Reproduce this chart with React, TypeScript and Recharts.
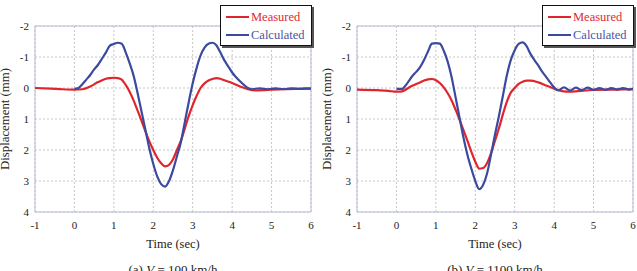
import React from 'react';
import { LineChart, Line, XAxis, YAxis, CartesianGrid, ReferenceArea, Legend } from 'recharts';

const FONT = '"Liberation Serif", "Times New Roman", serif';
const RED = '#E1252D';
const BLUE = '#3B4A9E';

const xTicks = [-1, 0, 1, 2, 3, 4, 5, 6];
const yTicks = [-2, -1, 0, 1, 2, 3, 4];
const seriesNames = ['Measured', 'Calculated'];

// (a) V = 100 km/h
const timeMeasuredA = [-1, -0.6, -0.3, 0, 0.2, 0.4, 0.6, 0.8, 0.9, 1.0, 1.1, 1.2, 1.3, 1.4, 1.5, 1.6, 1.7, 1.8, 1.9, 2.0, 2.1, 2.2, 2.3, 2.4, 2.5, 2.6, 2.7, 2.8, 2.9, 3.0, 3.1, 3.2, 3.3, 3.4, 3.5, 3.6, 3.7, 3.8, 4.0, 4.2, 4.4, 4.6, 4.8, 5.0, 5.3, 5.6, 6.0];
const measuredA = [0.0, 0.02, 0.04, 0.05, 0.04, -0.05, -0.19, -0.3, -0.32, -0.33, -0.32, -0.27, -0.1, 0.12, 0.4, 0.72, 1.05, 1.4, 1.72, 2.0, 2.25, 2.43, 2.53, 2.48, 2.3, 2.0, 1.7, 1.3, 0.9, 0.55, 0.25, 0.0, -0.15, -0.24, -0.29, -0.32, -0.3, -0.25, -0.16, -0.05, 0.04, 0.08, 0.07, 0.05, 0.04, 0.03, 0.02];
const timeCalculatedA = [0, 0.1, 0.2, 0.3, 0.4, 0.5, 0.6, 0.7, 0.8, 0.9, 1.0, 1.1, 1.2, 1.3, 1.4, 1.5, 1.6, 1.7, 1.8, 1.9, 2.0, 2.1, 2.2, 2.3, 2.4, 2.5, 2.6, 2.7, 2.8, 2.9, 3.0, 3.1, 3.2, 3.3, 3.4, 3.5, 3.6, 3.7, 3.8, 3.9, 4.0, 4.1, 4.2, 4.3, 4.4, 4.5, 4.7, 4.9, 5.1, 5.3, 5.5, 5.7, 5.9, 6.0];
const calculatedA = [0.03, 0.0, -0.12, -0.27, -0.42, -0.6, -0.75, -0.95, -1.15, -1.37, -1.42, -1.46, -1.43, -1.15, -0.8, -0.4, 0.15, 0.75, 1.35, 1.95, 2.45, 2.85, 3.1, 3.18, 3.0, 2.65, 2.2, 1.75, 1.1, 0.45, -0.15, -0.65, -1.05, -1.3, -1.43, -1.46, -1.38, -1.15, -0.9, -0.7, -0.5, -0.35, -0.22, -0.1, 0.0, 0.04, 0.01, 0.04, 0.01, 0.04, 0.01, 0.03, 0.01, 0.02];

// (b) V = 1100 km/h
const timeMeasuredB = [-1, -0.5, -0.2, 0, 0.1, 0.2, 0.3, 0.4, 0.5, 0.6, 0.7, 0.8, 0.9, 1.0, 1.1, 1.2, 1.3, 1.4, 1.5, 1.6, 1.7, 1.8, 1.9, 2.0, 2.1, 2.2, 2.3, 2.4, 2.5, 2.6, 2.7, 2.8, 2.9, 3.0, 3.1, 3.2, 3.3, 3.4, 3.6, 3.8, 4.0, 4.2, 4.4, 4.6, 4.8, 5.0, 5.5, 6.0];
const measuredB = [0.05, 0.07, 0.09, 0.12, 0.12, 0.08, 0.0, -0.07, -0.13, -0.18, -0.24, -0.28, -0.29, -0.25, -0.16, -0.02, 0.17, 0.4, 0.7, 1.02, 1.36, 1.7, 2.05, 2.38, 2.6, 2.58, 2.42, 2.1, 1.7, 1.3, 0.85, 0.45, 0.15, 0.0, -0.13, -0.2, -0.24, -0.24, -0.18, -0.08, 0.02, 0.1, 0.12, 0.1, 0.08, 0.06, 0.05, 0.04];
const timeCalculatedB = [0, 0.15, 0.2, 0.3, 0.4, 0.5, 0.6, 0.7, 0.8, 0.9, 1.0, 1.1, 1.2, 1.3, 1.4, 1.5, 1.6, 1.7, 1.8, 1.9, 2.0, 2.1, 2.2, 2.3, 2.4, 2.5, 2.6, 2.7, 2.8, 2.9, 3.0, 3.1, 3.2, 3.3, 3.4, 3.5, 3.6, 3.7, 3.8, 3.9, 4.0, 4.1, 4.25, 4.4, 4.55, 4.7, 4.85, 5.0, 5.15, 5.3, 5.45, 5.6, 5.75, 5.9, 6.0];
const calculatedB = [0.03, 0.03, -0.03, -0.2, -0.38, -0.52, -0.67, -0.9, -1.18, -1.43, -1.45, -1.43, -1.2, -0.85, -0.35, 0.3, 0.95, 1.6, 2.15, 2.6, 3.0, 3.26, 3.12, 2.75, 2.15, 1.5, 0.9, 0.25, -0.4, -0.9, -1.22, -1.42, -1.47, -1.35, -1.1, -0.9, -0.72, -0.52, -0.35, -0.18, -0.02, 0.08, -0.02, 0.08, -0.01, 0.07, -0.01, 0.06, 0.0, 0.06, 0.0, 0.05, 0.0, 0.05, 0.02];

const toPoints = (ts: number[], ds: number[]) => ts.map((t, i) => ({ t, d: ds[i] }));

const LegendBox = () => (
  <div
    style={{
      position: 'relative',
      width: 92,
      height: 41,
      boxSizing: 'border-box',
      border: '1.5px solid #111',
      boxShadow: '2px 2px 0 #555',
      background: '#fff',
      fontFamily: FONT,
      fontSize: 12.5,
    }}
  >
    {seriesNames.map((name, i) => (
      <div key={name} style={{ position: 'absolute', left: 5, top: 3 + i * 17.6, height: 16, display: 'flex', alignItems: 'center' }}>
        <div style={{ width: 23, height: 2.2, background: i === 0 ? RED : BLUE }} />
        <span style={{ marginLeft: 2, color: i === 0 ? '#DD2A33' : '#4A54A6', lineHeight: '16px', whiteSpace: 'nowrap' }}>{name}</span>
      </div>
    ))}
  </div>
);

const makeXLabel = (letter: string, speed: string) => (props: any) => {
  const vb = props.viewBox || { x: 35, y: 212, width: 276, height: 20 };
  const cx = vb.x + vb.width / 2;
  return (
    <g>
      <text x={cx} y={vb.y + 36} textAnchor="middle" fontFamily={FONT} fontSize={12.5} fill="#222">
        Time (sec)
      </text>
      <text x={cx} y={vb.y + 62} textAnchor="middle" fontFamily={FONT} fontSize={13} fill="#222">
        <tspan>{`(${letter}) `}</tspan>
        <tspan fontStyle="italic">V</tspan>
        <tspan>{` = ${speed} km/h`}</tspan>
      </text>
    </g>
  );
};

const YLabel = (props: any) => {
  const vb = props.viewBox || { x: 0, y: 26, width: 35, height: 186 };
  const cx = vb.x + 9;
  const cy = vb.y + vb.height / 2;
  return (
    <text x={cx} y={cy} transform={`rotate(-90 ${cx} ${cy})`} textAnchor="middle" fontFamily={FONT} fontSize={12.8} fill="#222">
      Displacement (mm)
    </text>
  );
};

const Panel = ({ measured, calculated, letter, speed }: any) => (
  <LineChart width={320} height={271} margin={{ top: 26, right: 9, bottom: 39, left: 0 }}>
    <CartesianGrid stroke="#c6c6c6" strokeDasharray="2 2" />
    <XAxis
      dataKey="t"
      type="number"
      domain={[-1, 6]}
      ticks={xTicks}
      interval={0}
      allowDataOverflow
      axisLine={false}
      tickLine={false}
      tickSize={6}
      tickMargin={3.5}
      height={20}
      tick={{ fontSize: 11, fill: '#222', fontFamily: FONT }}
      label={makeXLabel(letter, speed)}
    />
    <YAxis
      type="number"
      domain={[-2, 4]}
      ticks={yTicks}
      interval={0}
      reversed
      allowDataOverflow
      axisLine={false}
      tickLine={false}
      tickSize={4}
      tickMargin={2}
      width={35}
      tick={{ fontSize: 11, fill: '#222', fontFamily: FONT }}
      label={YLabel}
    />
    <ReferenceArea x1={-1} x2={6} y1={-2} y2={4} fill="none" stroke="#b6bdd6" strokeWidth={1} />
    <Line data={measured} dataKey="d" name={seriesNames[0]} type="monotone" stroke={RED} strokeWidth={2.2} dot={false} isAnimationActive={false} />
    <Line data={calculated} dataKey="d" name={seriesNames[1]} type="monotone" stroke={BLUE} strokeWidth={2.2} dot={false} isAnimationActive={false} />
    <Legend
      layout="horizontal"
      verticalAlign="middle"
      align="center"
      wrapperStyle={{ position: 'absolute', left: 220, top: 5, width: 94, height: 43 }}
      content={() => <LegendBox />}
    />
  </LineChart>
);

export default function App() {
  return (
    <div style={{ position: 'absolute', left: 0, top: 0, width: 637, height: 271, background: '#fff', overflow: 'hidden' }}>
      <div style={{ position: 'absolute', left: 0, top: 0 }}>
        <Panel measured={toPoints(timeMeasuredA, measuredA)} calculated={toPoints(timeCalculatedA, calculatedA)} letter="a" speed="100" />
      </div>
      <div style={{ position: 'absolute', left: 322, top: 0 }}>
        <Panel measured={toPoints(timeMeasuredB, measuredB)} calculated={toPoints(timeCalculatedB, calculatedB)} letter="b" speed="1100" />
      </div>
    </div>
  );
}
